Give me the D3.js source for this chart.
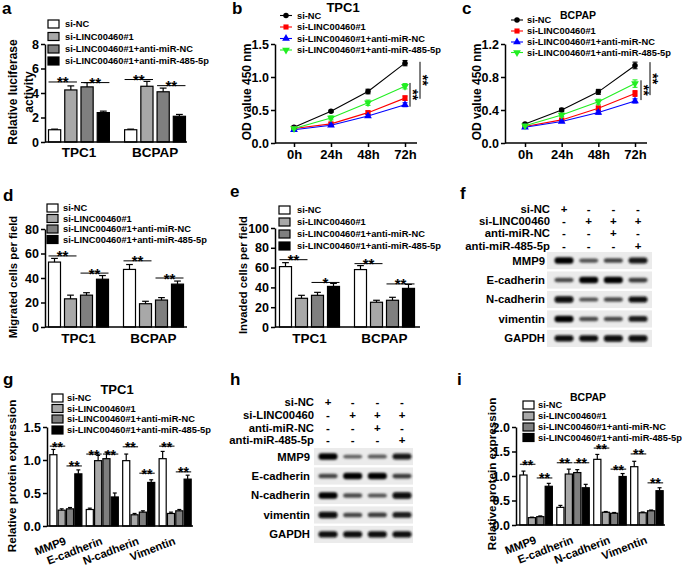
<!DOCTYPE html>
<html><head><meta charset="utf-8">
<script src="https://cdn.jsdelivr.net/npm/d3@7/dist/d3.min.js"></script>
<style>
body{margin:0;background:#fff}
svg text{font-family:"Liberation Sans",Arial,Helvetica,sans-serif;font-weight:bold;fill:#000}
</style></head><body>
<svg id="fig" width="685" height="572" xmlns="http://www.w3.org/2000/svg"></svg>
<script>
// ---------------- DATA ----------------
const groups = ["si-NC","si-LINC00460#1","si-LINC00460#1+anti-miR-NC","si-LINC00460#1+anti-miR-485-5p"];
const cellLines = ["TPC1","BCPAP"];
const timePoints = ["0h","24h","48h","72h"];
const proteins = ["MMP9","E-cadherin","N-cadherin","Vimentin"];
const blotProteins = ["MMP9","E-cadherin","N-cadherin","vimentin","GAPDH"];
const blotConditions = ["si-NC","si-LINC00460","anti-miR-NC","anti-miR-485-5p"];
const blotSigns = [["+","-","-","-"],["-","+","+","+"],["-","-","+","-"],["-","-","-","+"]];

// a: luciferase
const lucMean = [[1.0,4.25,4.5,2.4],[1.0,4.55,4.1,2.1]];
const lucErr  = [[0.05,0.33,0.35,0.12],[0.05,0.4,0.3,0.15]];
const lucSig  = [[4.9,4.85],[5.1,4.6]];
const lucSigLabel = [["**","**"],["**","**"]];
const lucTicks = [0,2,4,6,8];

// b, c: CCK-8 OD450
const odTPC1 = [[0.24,0.48,0.78,1.21],[0.22,0.29,0.46,0.68],[0.20,0.27,0.41,0.58],[0.22,0.38,0.61,0.86]];
const odTPC1Err = [[0.015,0.015,0.035,0.04],[0.015,0.02,0.025,0.035],[0.01,0.015,0.02,0.03],[0.015,0.03,0.04,0.04]];
const odTPC1Ticks = [0,0.5,1.0,1.5];
const odTPC1Sig = [[0.91,0.55],[1.23,0.67]];
const odBCPAP = [[0.23,0.40,0.62,0.94],[0.20,0.28,0.42,0.60],[0.19,0.26,0.37,0.51],[0.21,0.34,0.50,0.72]];
const odBCPAPErr = [[0.01,0.02,0.03,0.04],[0.01,0.015,0.03,0.035],[0.01,0.01,0.02,0.025],[0.01,0.02,0.03,0.045]];
const odBCPAPTicks = [0,0.4,0.8,1.2];
const odBCPAPSig = [[0.76,0.52],[0.98,0.58]];

// d: migration
const migMean = [[53,23,26,39],[47,19,22,35]];
const migErr  = [[3,3,2,3],[4,2,2,2.5]];
const migSig  = [[58,44],[54,40]];
const migSigLabel = [["**","**"],["**","**"]];
const migTicks = [0,20,40,60,80];

// e: invasion
const invMean = [[61,29,32,41],[58,25,27,39]];
const invErr  = [[4,3,3,3],[4,2,3,4]];
const invSig  = [[68,45],[64,43.5]];
const invSigLabel = [["**","*"],["**","**"]];
const invTicks = [0,20,40,60,80,100];

// f, h: western blot band intensities (lane order as header)
const blotTPC1  = [[1.0,0.4,0.5,0.85],[0.45,1.0,1.0,0.55],[0.95,0.4,0.45,0.9],[1.0,0.45,0.45,0.8],[0.92,0.92,0.95,0.95]];
const blotBCPAP = [[1.0,0.3,0.35,0.85],[0.5,1.0,1.0,0.55],[1.0,0.45,0.4,0.95],[0.95,0.5,0.55,0.8],[0.9,0.9,0.9,0.9]];

// g, i: relative protein expression [protein][group]
const protTPC1 = [[1.08,0.24,0.26,0.79],[0.25,0.99,1.02,0.44],[0.99,0.17,0.21,0.66],[1.02,0.19,0.23,0.71]];
const protTPC1Err = [[0.08,0.02,0.02,0.06],[0.02,0.08,0.1,0.06],[0.1,0.02,0.02,0.04],[0.11,0.02,0.02,0.06]];
const protTPC1Sig = [[1.21,0.91],[1.09,1.09],[1.2,0.8],[1.21,0.82]];
const protTPC1Ticks = [0,0.5,1.0,1.5];
const protBCPAP = [[1.02,0.15,0.17,0.79],[0.36,1.04,1.07,0.76],[1.34,0.26,0.24,0.99],[1.19,0.25,0.29,0.70]];
const protBCPAPErr = [[0.08,0.01,0.015,0.06],[0.04,0.1,0.06,0.07],[0.1,0.015,0.015,0.06],[0.11,0.015,0.015,0.06]];
const protBCPAPSig = [[1.24,0.96],[1.27,1.27],[1.57,1.14],[1.45,0.86]];
const protBCPAPTicks = [0,0.5,1.0,1.5,2.0];
const allStars = [["**","**"],["**","**"],["**","**"],["**","**"]];

// ---------------- STYLE ----------------
const barColors = ["#ffffff","#a8a8a8","#7f7f7f","#000000"];
const lineColors = ["#000000","#ff0000","#0000ff","#22ee22"];
const svg = d3.select("#fig");

const defs = svg.append("defs");
defs.append("filter").attr("id","blur").attr("x","-50%").attr("y","-100%").attr("width","200%").attr("height","300%")
  .append("feGaussianBlur").attr("stdDeviation","1.0 0.8");

function letter(t,x,y){ svg.append("text").attr("x",x).attr("y",y).attr("font-size",17).text(t); }

function styleAxis(a, fs){
  a.attr("font-family",null).attr("font-size",null);
  a.selectAll("path.domain").attr("stroke","#000").attr("stroke-width",1.5);
  a.selectAll(".tick line").attr("stroke","#000").attr("stroke-width",1.5);
  a.selectAll("text").attr("font-size",fs).attr("fill","#000");
}

function yAxis(g, y, ticks, x, fmt){
  const ax = d3.axisLeft(y).tickValues(ticks).tickSize(4).tickSizeOuter(0).tickPadding(2).tickFormat(fmt);
  const a = g.append("g").attr("transform",`translate(${x},0)`).call(ax);
  styleAxis(a, 12.5);
}

function yLabel(g, lines, cx, cy, fs){
  lines.forEach((t,i)=>{
    g.append("text").attr("transform",`translate(${cx[i]},${cy}) rotate(-90)`)
      .attr("text-anchor","middle").attr("dy","0.35em").attr("font-size",fs).text(t);
  });
}

function boxLegend(g, x, tx, rows){
  groups.forEach((name,i)=>{
    g.append("rect").attr("x",x).attr("y",rows[i]-4).attr("width",11).attr("height",8)
      .attr("fill",barColors[i]).attr("stroke","#000").attr("stroke-width",1.2);
    g.append("text").attr("x",tx).attr("y",rows[i]).attr("dy","0.35em").attr("font-size",9.3).text(name);
  });
}

function barPanel(o){
  const g = svg.append("g");
  const y = d3.scaleLinear().domain([0,o.max]).range([o.yB,o.yT]);
  const x0 = d3.scaleBand().domain(o.cats).range([o.bx0,o.bx1]).paddingInner(o.pIn).paddingOuter(o.pOut);
  const x1 = d3.scaleBand().domain(d3.range(groups.length)).range([0,x0.bandwidth()]).paddingInner(o.pBar);
  const w = x1.bandwidth();
  o.cats.forEach((c,ci)=>{
    groups.forEach((gn,gi)=>{
      const m = o.mean[ci][gi], e = o.err[ci][gi];
      const xx = x0(c)+x1(gi), cx = xx+w/2;
      g.append("rect").attr("x",xx).attr("y",y(m)).attr("width",w).attr("height",o.yB-y(m))
        .attr("fill",barColors[gi]).attr("stroke","#000").attr("stroke-width",1.2);
      g.append("line").attr("x1",cx).attr("x2",cx).attr("y1",y(m)).attr("y2",y(m+e)).attr("stroke","#000").attr("stroke-width",1.2);
      g.append("line").attr("x1",cx-w*0.28).attr("x2",cx+w*0.28).attr("y1",y(m+e)).attr("y2",y(m+e)).attr("stroke","#000").attr("stroke-width",1.2);
    });
    o.sig[ci].forEach((sv,si)=>{
      const a = x0(c)+x1(si*2), b = x0(c)+x1(si*2+1)+w;
      g.append("line").attr("x1",a).attr("x2",b).attr("y1",y(sv)).attr("y2",y(sv)).attr("stroke","#000").attr("stroke-width",1);
      g.append("text").attr("x",(a+b)/2).attr("y",y(sv)+5.5).attr("text-anchor","middle").attr("font-size",o.starFS||15).text(o.sigLabel[ci][si]);
    });
  });
  // x axis
  g.append("line").attr("x1",o.xL).attr("x2",o.xR).attr("y1",o.yB).attr("y2",o.yB).attr("stroke","#000").attr("stroke-width",1.5);
  o.cats.forEach(c=>{
    const cx = x0(c)+x0.bandwidth()/2;
    if(o.rotate){
      g.append("text").attr("transform",`translate(${cx-2},${o.yB+10}) rotate(-21)`)
        .attr("text-anchor","end").attr("dy","0.75em").attr("font-size",11.3).text(c);
    } else {
      g.append("text").attr("x",cx).attr("y",o.catY).attr("text-anchor","middle").attr("font-size",13.5).text(c);
    }
  });
  yAxis(g, y, o.ticks, o.xL, o.fmt);
  boxLegend(g, o.legX, o.legTX, o.legRows);
  yLabel(g, o.ylab, o.ylabX, o.ylabY, o.ylabFS);
  if(o.title) g.append("text").attr("x",o.title[1]).attr("y",o.title[2]).attr("text-anchor","middle").attr("font-size",o.title[3]).text(o.title[0]);
}

function symbolPath(i){
  const types = [d3.symbolCircle, d3.symbolSquare, d3.symbolTriangle, d3.symbolTriangle];
  const sizes = [24, 26, 26, 26];
  return d3.symbol().type(types[i]).size(sizes[i])();
}

function linePanel(o){
  const g = svg.append("g");
  const y = d3.scaleLinear().domain([0,o.max]).range([o.yB,o.yT]);
  const x = d3.scalePoint().domain(timePoints).range([o.px0,o.px1]);
  const ln = d3.line().x((d,i)=>x(timePoints[i])).y(d=>y(d));
  o.data.forEach((s,si)=>{
    g.append("path").attr("d",ln(s)).attr("fill","none").attr("stroke",lineColors[si]).attr("stroke-width",1.1);
  });
  o.data.forEach((s,si)=>{
    s.forEach((v,ti)=>{
      const cx = x(timePoints[ti]), e = o.err[si][ti];
      g.append("line").attr("x1",cx).attr("x2",cx).attr("y1",y(v-e)).attr("y2",y(v+e)).attr("stroke",lineColors[si]).attr("stroke-width",1.1);
      [v-e,v+e].forEach(vv=>g.append("line").attr("x1",cx-2.5).attr("x2",cx+2.5).attr("y1",y(vv)).attr("y2",y(vv)).attr("stroke",lineColors[si]).attr("stroke-width",1.1));
      g.append("path").attr("d",symbolPath(si)).attr("fill",lineColors[si])
        .attr("transform",`translate(${cx},${y(v)})${si===3?" rotate(180)":""}`);
    });
  });
  // x axis
  const ax = d3.axisBottom(x).tickSize(4).tickSizeOuter(0).tickPadding(3);
  const a = g.append("g").attr("transform",`translate(0,${o.yB})`).call(ax);
  a.select("path.domain").remove();
  styleAxis(a, 13);
  g.append("line").attr("x1",o.xL).attr("x2",o.xR).attr("y1",o.yB).attr("y2",o.yB).attr("stroke","#000").attr("stroke-width",1.5);
  yAxis(g, y, o.ticks, o.xL, d3.format(".1f"));
  // legend
  groups.forEach((name,i)=>{
    const ry = o.legRows[i];
    g.append("line").attr("x1",o.legX).attr("x2",o.legX+12).attr("y1",ry).attr("y2",ry).attr("stroke",lineColors[i]).attr("stroke-width",1.1);
    g.append("path").attr("d",symbolPath(i)).attr("fill",lineColors[i]).attr("transform",`translate(${o.legX+6},${ry})${i===3?" rotate(180)":""}`);
    g.append("text").attr("x",o.legTX).attr("y",ry).attr("dy","0.35em").attr("font-size",9.3).text(name);
  });
  // significance brackets
  o.sig.forEach((r,k)=>{
    const bx = o.sigX[k];
    g.append("line").attr("x1",bx).attr("x2",bx).attr("y1",y(r[0])).attr("y2",y(r[1])).attr("stroke","#000").attr("stroke-width",1);
    g.append("text").attr("transform",`translate(${bx-2},${(y(r[0])+y(r[1]))/2}) rotate(90)`).attr("text-anchor","middle").attr("font-size",14).text("**");
  });
  yLabel(g, ["OD value 450 nm"], [o.ylabX], o.ylabY, 12);
  g.append("text").attr("x",o.title[1]).attr("y",o.title[2]).attr("text-anchor","middle").attr("font-size",o.title[3]).text(o.title[0]);
}

function blotPanel(o){
  const g = svg.append("g");
  const lane = d3.scalePoint().domain(d3.range(4)).range([o.lane0,o.lane1]);
  const shade = d3.interpolateRgb("#8a8a8a","#000000");
  blotConditions.forEach((c,ri)=>{
    g.append("text").attr("x",o.hx).attr("y",o.hRows[ri]).attr("dy","0.35em").attr("text-anchor","end").attr("font-size",11.3).attr("fill","#222").text(c);
    blotSigns[ri].forEach((s,li)=>{
      g.append("text").attr("x",lane(li)).attr("y",o.hRows[ri]).attr("dy","0.35em").attr("text-anchor","middle").attr("font-size",11.5).text(s);
    });
  });
  const row = d3.scaleBand().domain(blotProteins).range([o.r0,o.r1]).paddingInner(0.12);
  blotProteins.forEach((p,pi)=>{
    const ry = row(p), h = row.bandwidth(), cy = ry+h/2;
    g.append("rect").attr("x",o.bx0).attr("y",ry).attr("width",o.bx1-o.bx0).attr("height",h).attr("fill","#ebebeb");
    g.append("text").attr("x",o.lx).attr("y",cy).attr("dy","0.35em").attr("text-anchor","end").attr("font-size",11.3).attr("fill","#222").text(p);
    o.data[pi].forEach((v,li)=>{
      g.append("rect").attr("x",lane(li)-9.5).attr("y",cy-(1.3+2.0*v)).attr("width",19).attr("height",2*(1.3+2.0*v))
        .attr("rx",3).attr("fill",shade(v)).attr("filter","url(#blur)");
    });
  });
}

// ---------------- PANELS ----------------
letter("a",2,14);
barPanel({cats:cellLines, mean:lucMean, err:lucErr, sig:lucSig, sigLabel:lucSigLabel, max:8, ticks:lucTicks, fmt:d3.format("d"),
  yB:142, yT:44, xL:45, xR:187, bx0:47, bx1:187, pIn:0.2, pOut:0.02, pBar:0.25, catY:157,
  legX:48, legTX:65, legRows:[24,36.5,49,61], ylab:["Relative luciferase","activity"], ylabX:[12.5,29], ylabY:92, ylabFS:12});

letter("b",232,14);
linePanel({data:odTPC1, err:odTPC1Err, max:1.5, ticks:odTPC1Ticks, yB:143, yT:44, xL:275, xR:417, px0:294, px1:405,
  legX:280, legTX:297, legRows:[15.5,27,38.5,50], sig:odTPC1Sig, sigX:[410,420], ylabX:247, ylabY:92, title:["TPC1",343,12,13]});

letter("c",462,14);
linePanel({data:odBCPAP, err:odBCPAPErr, max:1.2, ticks:odBCPAPTicks, yB:143, yT:44, xL:505, xR:647, px0:525, px1:635,
  legX:511, legTX:527, legRows:[20,31,42,52.5], sig:odBCPAPSig, sigX:[641,650], ylabX:477, ylabY:92, title:["BCPAP",578,19,10.5]});

letter("d",3,201);
barPanel({cats:cellLines, mean:migMean, err:migErr, sig:migSig, sigLabel:migSigLabel, max:80, ticks:migTicks, fmt:d3.format("d"),
  yB:327, yT:229, xL:45, xR:187, bx0:47, bx1:185, pIn:0.2, pOut:0.02, pBar:0.25, catY:343,
  legX:47, legTX:63, legRows:[208,218.5,229,239.5], ylab:["Migrated cells per field"], ylabX:[13], ylabY:277, ylabFS:11.3});

letter("e",230,197);
barPanel({cats:cellLines, mean:invMean, err:invErr, sig:invSig, sigLabel:invSigLabel, max:100, ticks:invTicks, fmt:d3.format("d"),
  yB:327, yT:228, xL:275, xR:420, bx0:278, bx1:416, pIn:0.2, pOut:0.02, pBar:0.25, catY:343,
  legX:279, legTX:297, legRows:[210,222,234,246], ylab:["Invaded cells per field"], ylabX:[243], ylabY:275, ylabFS:11.3});

letter("f",460,199);
blotPanel({data:blotTPC1, hx:550, hRows:[209,221,233,246], lane0:564, lane1:638, r0:252, r1:347, bx0:547, bx1:652, lx:545});

letter("g",3,385);
barPanel({cats:proteins, mean:protTPC1, err:protTPC1Err, sig:protTPC1Sig, sigLabel:allStars, max:1.5, ticks:protTPC1Ticks, fmt:d3.format(".1f"),
  yB:526, yT:427, xL:47, xR:193, bx0:48, bx1:193, pIn:0.12, pOut:0.05, pBar:0.15, rotate:true, starFS:14,
  legX:52, legTX:67, legRows:[398,408.5,419,430], ylab:["Relative protein expression"], ylabX:[12], ylabY:476, ylabFS:11.7,
  title:["TPC1",117,394,13]});

letter("h",230,385);
blotPanel({data:blotBCPAP, hx:314, hRows:[402,415,428,440], lane0:328, lane1:402, r0:448, r1:543, bx0:314, bx1:413, lx:310});

letter("i",457,385);
barPanel({cats:proteins, mean:protBCPAP, err:protBCPAPErr, sig:protBCPAPSig, sigLabel:allStars, max:2.0, ticks:protBCPAPTicks, fmt:d3.format(".1f"),
  yB:525, yT:427, xL:516, xR:665, bx0:518, bx1:665, pIn:0.12, pOut:0.05, pBar:0.15, rotate:true, starFS:14,
  legX:523, legTX:538, legRows:[405,416,427,437.5], ylab:["Relative protein expression"], ylabX:[492], ylabY:474, ylabFS:11.7,
  title:["BCPAP",588,401,10.5]});
</script>
</body></html>
